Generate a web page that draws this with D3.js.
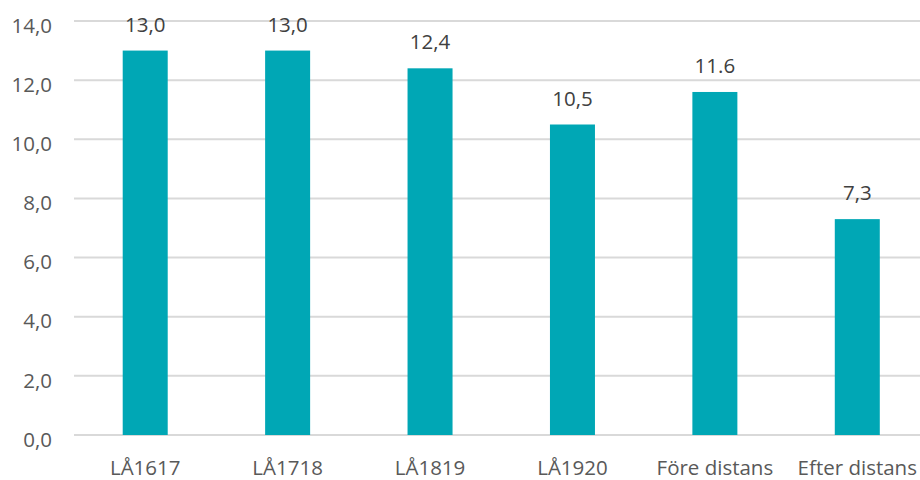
<!DOCTYPE html>
<html>
<head>
<meta charset="utf-8">
<script src="https://cdn.jsdelivr.net/npm/d3@7"></script>
<style>
    body { margin: 0; background: #fff; }
    svg { display: block; font-family: "Open Sans", sans-serif; }
</style>
</head>
<body>
<div class="chart"></div>
<script>
// Data
let categories = ["LÅ1617", "LÅ1718", "LÅ1819", "LÅ1920", "Före distans", "Efter distans"];
let values = [13.0, 13.0, 12.4, 10.5, 11.6, 7.3];
let valueLabels = ["13,0", "13,0", "12,4", "10,5", "11.6", "7,3"];
let yTicks = [0, 2, 4, 6, 8, 10, 12, 14];

let svgWidth = 920;
let svgHeight = 480;

let svg = d3.select(".chart")
    .append("svg")
    .attr("width", svgWidth)
    .attr("height", svgHeight);

// Scales
let xScale = d3.scaleBand()
    .domain(categories)
    .range([74, 928.5])
    .paddingInner(0.684)
    .paddingOuter(0.342);

let yScale = d3.scaleLinear()
    .domain([0, 14])
    .range([435, 21]);

// Gridlines
svg.append("g")
    .selectAll("line")
    .data(yTicks)
    .enter()
    .append("line")
    .attr("x1", 74)
    .attr("x2", 928)
    .attr("y1", d => yScale(d))
    .attr("y2", d => yScale(d))
    .attr("stroke", "#d9d9d9")
    .attr("stroke-width", 2);

// Y axis
let leftAxis = d3.axisLeft(yScale)
    .tickValues(yTicks)
    .tickSize(0)
    .tickPadding(0)
    .tickFormat(d => d3.format(".1f")(d).replace(".", ","));

let yAxis = svg.append("g")
    .attr("transform", "translate(52, 0)")
    .call(leftAxis);
yAxis.select(".domain").remove();
yAxis.selectAll("text")
    .attr("dy", "0.55em")
    .attr("font-size", 20.5)
    .attr("font-family", "Open Sans, sans-serif")
    .attr("fill", "#595959");

// Bars
svg.append("g")
    .selectAll("rect")
    .data(values)
    .enter()
    .append("rect")
    .attr("x", (d, i) => xScale(categories[i]))
    .attr("y", d => yScale(d))
    .attr("width", xScale.bandwidth())
    .attr("height", d => yScale(0) - yScale(d))
    .attr("fill", "#00a7b5");

// Value labels
svg.append("g")
    .selectAll("text")
    .data(values)
    .enter()
    .append("text")
    .attr("x", (d, i) => xScale(categories[i]) + xScale.bandwidth() / 2)
    .attr("y", d => yScale(d) - 19)
    .attr("text-anchor", "middle")
    .attr("font-size", 20.5)
    .attr("fill", "#404040")
    .text((d, i) => valueLabels[i]);

// X axis
let bottomAxis = d3.axisBottom(xScale)
    .tickSize(0)
    .tickPadding(0);

let xAxis = svg.append("g")
    .attr("transform", "translate(0, 435)")
    .call(bottomAxis);
xAxis.select(".domain").remove();
xAxis.selectAll("text")
    .attr("y", 40)
    .attr("dy", 0)
    .attr("font-size", 20.5)
    .attr("font-family", "Open Sans, sans-serif")
    .attr("fill", "#595959");
</script>
</body>
</html>
